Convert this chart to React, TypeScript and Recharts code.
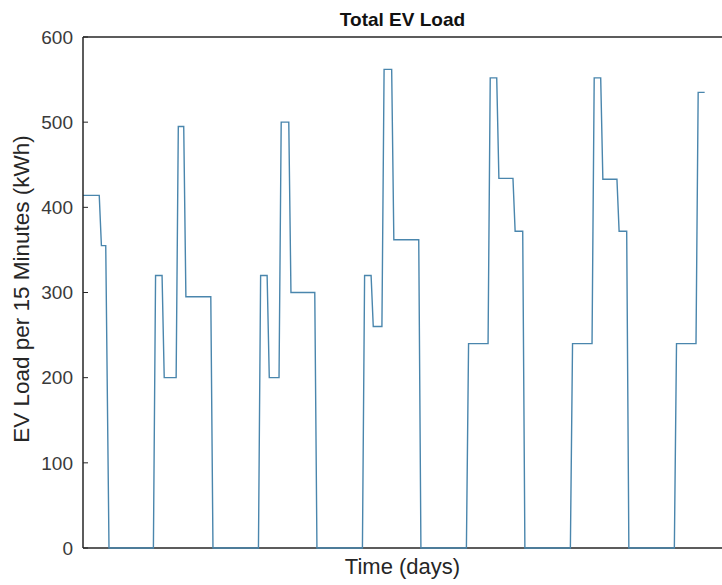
import React from 'react';
import { LineChart, Line, XAxis, YAxis, ReferenceLine } from 'recharts';

// time in hours, EV load in kWh per 15 minutes
const timeHours: number[] = [
  0, 3.75, 4.25, 5.25, 6,
  16.25, 16.75, 18.25, 18.75, 21.5, 22, 23.25, 23.75, 29.5, 30,
  40.5, 41, 42.5, 43, 45.25, 45.75, 47.5, 48, 53.5, 54,
  64.5, 65, 66.5, 67, 69, 69.5, 71.25, 71.75, 77.5, 78,
  88.5, 89, 93.5, 94, 95.5, 96, 99.25, 99.75, 101.5, 102,
  112.5, 113, 117.5, 118, 119.5, 120, 123.25, 123.75, 125.5, 126,
  136.5, 137, 141.5, 142, 143.5,
];
const evLoad: number[] = [
  414, 414, 355, 355, 0,
  0, 320, 320, 200, 200, 495, 495, 295, 295, 0,
  0, 320, 320, 200, 200, 500, 500, 300, 300, 0,
  0, 320, 320, 260, 260, 562, 562, 362, 362, 0,
  0, 240, 240, 552, 552, 434, 434, 372, 372, 0,
  0, 240, 240, 552, 552, 433, 433, 372, 372, 0,
  0, 240, 240, 535, 535,
];
const yTicks: number[] = [0, 100, 200, 300, 400, 500, 600];
const yDomain: [number, number] = [0, 600];
const xDomain: [number, number] = [0, 147.5];

const data = timeHours.map((h, i) => ({ h, load: evLoad[i] }));

const FONT = '"Liberation Sans", Arial, Helvetica, sans-serif';
const AXIS = '#262626';

export default function App() {
  return (
    <div style={{ position: 'absolute', left: 0, top: 0, width: 722, height: 585, background: '#fff', overflow: 'hidden' }}>
      <LineChart
        width={722}
        height={585}
        data={data}
        margin={{ top: 37, right: 0, left: 23, bottom: 37 }}
      >
        <XAxis
          dataKey="h"
          type="number"
          domain={xDomain}
          allowDataOverflow
          tick={false}
          tickLine={false}
          axisLine={false}
          height={0}
        />
        <YAxis
          type="number"
          domain={yDomain}
          ticks={yTicks}
          width={60}
          tickSize={-5}
          tickMargin={15}
          tickLine={{ stroke: AXIS, strokeWidth: 1 }}
          tick={{ fill: '#3a3a3a', fontSize: 19, fontFamily: FONT }}
          axisLine={{ stroke: AXIS, strokeWidth: 1.5 }}
        />
        <ReferenceLine y={600} stroke={AXIS} strokeWidth={1.5} />
        <ReferenceLine y={0} stroke={AXIS} strokeWidth={1.5} />
        <Line
          type="linear"
          dataKey="load"
          stroke="#4a86ad"
          strokeWidth={1.4}
          dot={false}
          isAnimationActive={false}
        />
      </LineChart>
      <div
        style={{
          position: 'absolute',
          left: 83,
          width: 639,
          top: 9,
          textAlign: 'center',
          fontFamily: FONT,
          fontWeight: 'bold',
          fontSize: 19,
          color: '#111',
          lineHeight: '22px',
        }}
      >
        Total EV Load
      </div>
      <div
        style={{
          position: 'absolute',
          left: 83,
          width: 639,
          top: 555,
          textAlign: 'center',
          fontFamily: FONT,
          fontSize: 22,
          color: '#262626',
          lineHeight: '24px',
        }}
      >
        Time (days)
      </div>
      <div
        style={{
          position: 'absolute',
          left: 22,
          top: 289,
          transform: 'translate(-50%, -50%) rotate(-90deg)',
          whiteSpace: 'nowrap',
          fontFamily: FONT,
          fontSize: 22.5,
          color: '#262626',
          lineHeight: '24px',
        }}
      >
        EV Load per 15 Minutes (kWh)
      </div>
    </div>
  );
}
